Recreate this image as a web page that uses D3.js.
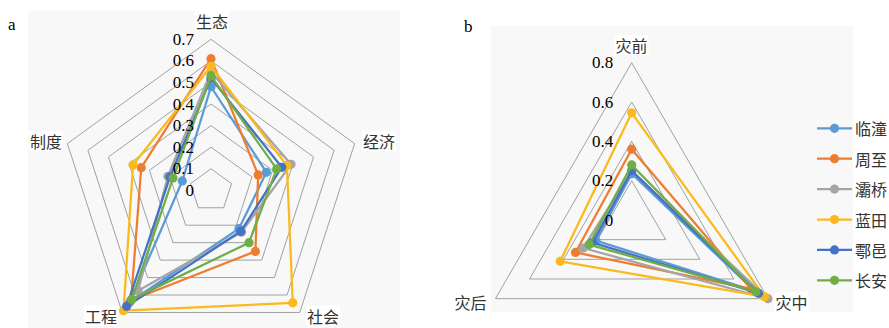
<!DOCTYPE html>
<html><head><meta charset="utf-8">
<script src="https://cdn.jsdelivr.net/npm/d3@7/dist/d3.min.js"></script>
<style>
html,body{margin:0;padding:0;background:#fff;}
svg{display:block;}
</style></head>
<body>
<svg id="chart" width="889" height="328"></svg>
<script>
// ---------- data ----------
const seriesNames = ["临潼", "周至", "灞桥", "蓝田", "鄠邑", "长安"];
const seriesColors = ["#5B9BD5", "#ED7D31", "#A5A5A5", "#FBBA1C", "#4472C4", "#70AD47"];

// panel a: axes clockwise from top
const axesA = ["生态", "经济", "社会", "工程", "制度"];
const ticksA = [0, 0.1, 0.2, 0.3, 0.4, 0.5, 0.6, 0.7];
const linTongA = [0.48, 0.27, 0.22, 0.64, 0.14];
const zhouZhiA = [0.61, 0.23, 0.35, 0.63, 0.34];
const baQiaoA  = [0.55, 0.39, 0.24, 0.575, 0.21];
const lanTianA = [0.575, 0.37, 0.645, 0.69, 0.38];
const huYiA    = [0.52, 0.345, 0.235, 0.665, 0.20];
const changAnA = [0.53, 0.32, 0.30, 0.625, 0.185];

// panel b: axes clockwise from top
const axesB = ["灾前", "灾中", "灾后"];
const ticksB = [0, 0.2, 0.4, 0.6, 0.8];
const linTongB = [0.235, 0.72, 0.21];
const zhouZhiB = [0.36, 0.70, 0.33];
const baQiaoB  = [0.25, 0.80, 0.285];
const lanTianB = [0.545, 0.78, 0.42];
const huYiB    = [0.25, 0.745, 0.23];
const changAnB = [0.28, 0.73, 0.25];

const valuesA = [linTongA, zhouZhiA, baQiaoA, lanTianA, huYiA, changAnA];
const valuesB = [linTongB, zhouZhiB, baQiaoB, lanTianB, huYiB, changAnB];

// ---------- drawing ----------
const svg = d3.select("#chart");
const numFont = "'Liberation Serif','Times New Roman',serif";
const cjkFont = "'Noto Sans CJK SC','Noto Sans',sans-serif";

function radar(opt) {
  const g = svg.append("g");
  g.append("rect").attr("x", opt.bg[0]).attr("y", opt.bg[1])
    .attr("width", opt.bg[2]).attr("height", opt.bg[3]).attr("fill", "#f8f8f8");
  const n = opt.axes.length;
  const r = d3.scaleLinear().domain([0, opt.max]).range([0, opt.radius]);
  const ang = d3.scaleLinear().domain([0, n]).range([0, 2 * Math.PI]);
  const pt = (i, v) => [opt.cx + r(v) * Math.sin(ang(i)), opt.cy - r(v) * Math.cos(ang(i))];
  const line = d3.line().curve(d3.curveLinearClosed);

  opt.ticks.filter(t => t > 0).forEach(t => {
    g.append("path").attr("d", line(d3.range(n).map(i => pt(i, t))))
      .attr("fill", "none").attr("stroke", "#8a8a8a").attr("stroke-width", 0.8);
  });

  opt.values.forEach((vals, s) => {
    const pts = vals.map((v, i) => pt(i, v));
    g.append("path").attr("d", line(pts)).attr("fill", "none")
      .attr("stroke", seriesColors[s]).attr("stroke-width", 2.25)
      .attr("stroke-linejoin", "round");
    g.selectAll(null).data(pts).enter().append("circle")
      .attr("cx", d => d[0]).attr("cy", d => d[1]).attr("r", 4.6)
      .attr("fill", seriesColors[s]);
  });

  opt.ticks.forEach(t => {
    const p = pt(0, t);
    g.append("text").attr("x", p[0] - opt.labelGap).attr("y", p[1])
      .attr("text-anchor", "end").attr("dominant-baseline", "central")
      .attr("font-family", numFont).attr("font-size", 17).attr("fill", "#000")
      .text(t === 0 ? "0" : d3.format(".1f")(t));
  });

  opt.axes.forEach((name, i) => {
    const lp = opt.catPos[i];
    const t = g.append("text").attr("x", lp[0]).attr("y", lp[1])
      .attr("text-anchor", "middle").attr("dominant-baseline", "central")
      .attr("font-family", cjkFont).attr("font-size", 16).attr("fill", "#333")
      .text(name);
    const bb = t.node().getBBox();
    g.insert("rect", () => t.node()).attr("x", bb.x - 1).attr("y", bb.y + 2)
      .attr("width", bb.width + 2).attr("height", bb.height - 4).attr("fill", "#fff");
  });
}

radar({
  axes: axesA, ticks: ticksA, values: valuesA, max: 0.7,
  cx: 211, cy: 190.3, radius: 151, labelGap: 17,
  bg: [28, 11, 372, 317],
  catPos: [[212, 21], [379, 141], [323, 315.5], [101, 315.5], [46, 141]]
});

radar({
  axes: axesB, ticks: ticksB, values: valuesB, max: 0.8,
  cx: 631.7, cy: 220, radius: 157.3, labelGap: 18.5,
  bg: [491, 26, 362, 286],
  catPos: [[631.5, 45], [791.5, 302], [470.5, 302]]
});

svg.append("text").attr("x", 8).attr("y", 30).attr("font-family", numFont)
  .attr("font-size", 17).text("a");
svg.append("text").attr("x", 464).attr("y", 32).attr("font-family", numFont)
  .attr("font-size", 17).text("b");

const leg = svg.append("g");
const ly = d3.scaleLinear().domain([0, seriesNames.length - 1]).range([128.3, 280.3]);
seriesNames.forEach((name, i) => {
  const y = ly(i);
  leg.append("line").attr("x1", 817).attr("x2", 852).attr("y1", y).attr("y2", y)
    .attr("stroke", seriesColors[i]).attr("stroke-width", 2.25);
  leg.append("circle").attr("cx", 834.5).attr("cy", y).attr("r", 4.6).attr("fill", seriesColors[i]);
  leg.append("text").attr("x", 855).attr("y", y).attr("dominant-baseline", "central")
    .attr("font-family", cjkFont).attr("font-size", 16).attr("fill", "#333").text(name);
});
</script>
</body></html>
